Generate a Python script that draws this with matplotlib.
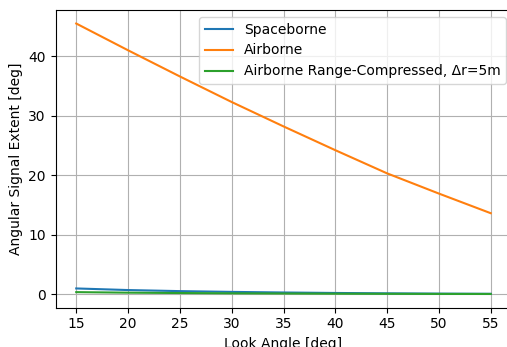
import matplotlib
matplotlib.use("Agg")
import matplotlib.pyplot as plt

look_angle = [15, 20, 25, 30, 35, 40, 45, 50, 55]
spaceborne = [0.95, 0.68, 0.50, 0.37, 0.27, 0.19, 0.13, 0.08, 0.05]
airborne = [45.5, 41.0, 36.6, 32.3, 28.2, 24.2, 20.3, 16.9, 13.6]
airborne_rc = [0.33, 0.24, 0.18, 0.13, 0.10, 0.07, 0.05, 0.03, 0.02]

W, H = 507, 347
fig = plt.figure(figsize=(W / 100, H / 100), dpi=100)
# reference is cropped on the right: the axes run a little past the edge
ax = fig.add_axes([55.5 / W, (H - 307.5) / H, 456 / W, 297.5 / H])

ax.plot(look_angle, spaceborne, label="Spaceborne")
ax.plot(look_angle, airborne, label="Airborne")
ax.plot(look_angle, airborne_rc, label="Airborne Range-Compressed, Δr=5m")

ax.set_xlabel("Look Angle [deg]")
ax.set_ylabel("Angular Signal Extent [deg]")
ax.grid(True)
ax.legend(loc="upper right", bbox_to_anchor=(506 / W, 1 - 17 / H),
          bbox_transform=fig.transFigure, borderaxespad=0)

fig.savefig("out.png", dpi=100)
